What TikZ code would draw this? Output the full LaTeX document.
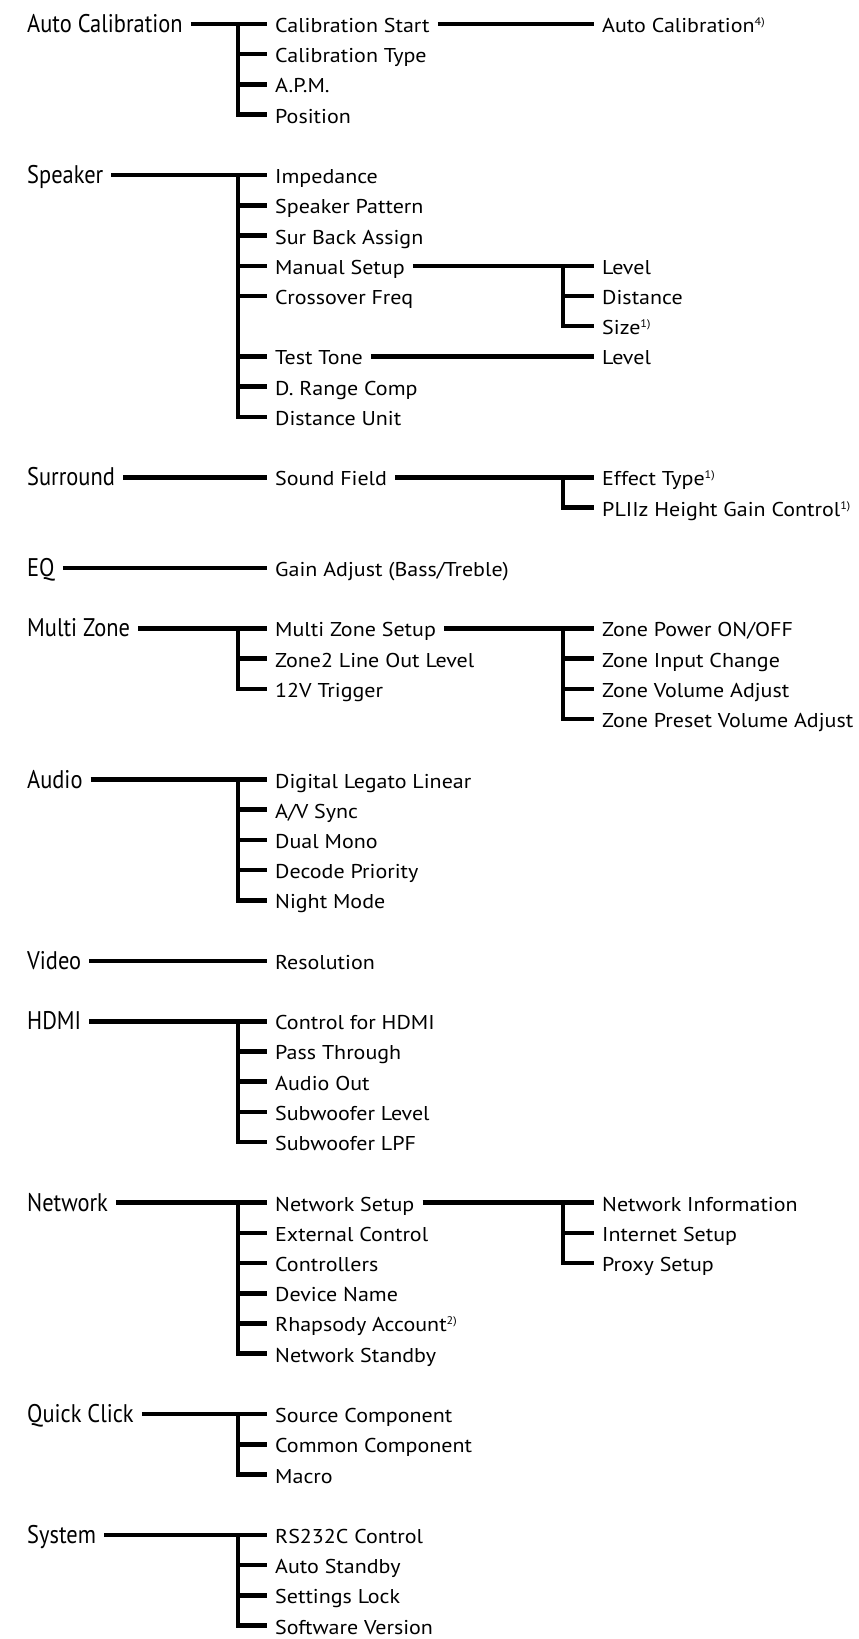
\documentclass[tikz,border=0pt]{standalone}
\usepackage{fontspec}
\setmainfont[FakeStretch=1.1]{PT Sans}
\newfontfamily\condfont[FakeStretch=0.88]{PT Sans}
\usetikzlibrary{calc}
\newcommand\fnote[1]{\raisebox{7pt}{\fontsize{11}{11}\selectfont #1}}
\newcommand\lnk[3]{\draw[wire] ($(#1.east |- #3)+(8,0)$) -- ($(#2.west |- #3)+(-8,0)$);}
\newcommand\brn[3]{\draw[wire] (#1 |- #3) -- ($(#2.west |- #3)+(-8,0)$);}
\newcommand\brl[4]{\draw[wire] (#1 |- #2) -- (#1 |- #4) -- ($(#3.west |- #4)+(-8,0)$);}
\tikzset{
  lvlone/.style={anchor=base west, inner sep=0pt, font=\condfont\fontsize{25.5}{25.5}\selectfont, yshift=-8.5pt},
  lvltwo/.style={anchor=base west, inner sep=0pt, font=\fontsize{20}{20}\selectfont, yshift=-8.5pt},
  wire/.style={line width=4.5pt, line join=miter},
}
\begin{document}
\begin{tikzpicture}[x=1pt,y=-1pt]
\useasboundingbox (0,0) rectangle (859,1639);
\foreach \k in {0,...,53} { \coordinate (r\k) at (0,{24+30.22*\k}); }
\coordinate (xa) at (27,0);
\coordinate (xb) at (275,0);
\coordinate (xc) at (602,0);
\coordinate (b2) at (238,0);
\coordinate (b3) at (563,0);

% Auto Calibration
\node[lvlone] (ac) at (xa |- r0) {Auto Calibration};
\node[lvltwo] (acs) at (xb |- r0) {Calibration Start};
\node[lvltwo] (act) at (xb |- r1) {Calibration Type};
\node[lvltwo] (apm) at (xb |- r2) {A.P.M.};
\node[lvltwo] (pos) at (xb |- r3) {Position};
\node[lvltwo] (aca) at (xc |- r0) {Auto Calibration\fnote{4)}};
\lnk{ac}{acs}{r0}
\brn{b2}{act}{r1}
\brn{b2}{apm}{r2}
\brl{b2}{r0}{pos}{r3}
\lnk{acs}{aca}{r0}

% Speaker
\node[lvlone] (spk) at (xa |- r5) {Speaker};
\node[lvltwo] (imp) at (xb |- r5) {Impedance};
\node[lvltwo] (spp) at (xb |- r6) {Speaker Pattern};
\node[lvltwo] (sba) at (xb |- r7) {Sur Back Assign};
\node[lvltwo] (mns) at (xb |- r8) {Manual Setup};
\node[lvltwo] (crf) at (xb |- r9) {Crossover Freq};
\node[lvltwo] (tst) at (xb |- r11) {Test Tone};
\node[lvltwo] (drc) at (xb |- r12) {D. Range Comp};
\node[lvltwo] (dsu) at (xb |- r13) {Distance Unit};
\node[lvltwo] (mlv) at (xc |- r8) {Level};
\node[lvltwo] (mds) at (xc |- r9) {Distance};
\node[lvltwo] (msz) at (xc |- r10) {Size\fnote{1)}};
\node[lvltwo] (tlv) at (xc |- r11) {Level};
\lnk{spk}{imp}{r5}
\brn{b2}{spp}{r6}
\brn{b2}{sba}{r7}
\brn{b2}{mns}{r8}
\brn{b2}{crf}{r9}
\brn{b2}{tst}{r11}
\brn{b2}{drc}{r12}
\brl{b2}{r5}{dsu}{r13}
\lnk{mns}{mlv}{r8}
\brn{b3}{mds}{r9}
\brl{b3}{r8}{msz}{r10}
\lnk{tst}{tlv}{r11}

% Surround
\node[lvlone] (sur) at (xa |- r15) {Surround};
\node[lvltwo] (snf) at (xb |- r15) {Sound Field};
\node[lvltwo] (eft) at (xc |- r15) {Effect Type\fnote{1)}};
\node[lvltwo] (plz) at (xc |- r16) {PLIIz Height Gain Control\fnote{1)}};
\lnk{sur}{snf}{r15}
\lnk{snf}{eft}{r15}
\brl{b3}{r15}{plz}{r16}

% EQ
\node[lvlone] (eq) at (xa |- r18) {EQ};
\node[lvltwo] (gad) at (xb |- r18) {Gain Adjust (Bass/Treble)};
\lnk{eq}{gad}{r18}

% Multi Zone
\node[lvlone] (mz) at (xa |- r20) {Multi Zone};
\node[lvltwo] (mzs) at (xb |- r20) {Multi Zone Setup};
\node[lvltwo] (z2l) at (xb |- r21) {Zone2 Line Out Level};
\node[lvltwo] (tvt) at (xb |- r22) {12V Trigger};
\node[lvltwo] (zpw) at (xc |- r20) {Zone Power ON/OFF};
\node[lvltwo] (zic) at (xc |- r21) {Zone Input Change};
\node[lvltwo] (zva) at (xc |- r22) {Zone Volume Adjust};
\node[lvltwo] (zpv) at (xc |- r23) {Zone Preset Volume Adjust};
\lnk{mz}{mzs}{r20}
\brn{b2}{z2l}{r21}
\brl{b2}{r20}{tvt}{r22}
\lnk{mzs}{zpw}{r20}
\brn{b3}{zic}{r21}
\brn{b3}{zva}{r22}
\brl{b3}{r20}{zpv}{r23}

% Audio
\node[lvlone] (aud) at (xa |- r25) {Audio};
\node[lvltwo] (dll) at (xb |- r25) {Digital Legato Linear};
\node[lvltwo] (avs) at (xb |- r26) {A/V Sync};
\node[lvltwo] (dmo) at (xb |- r27) {Dual Mono};
\node[lvltwo] (dcp) at (xb |- r28) {Decode Priority};
\node[lvltwo] (ngm) at (xb |- r29) {Night Mode};
\lnk{aud}{dll}{r25}
\brn{b2}{avs}{r26}
\brn{b2}{dmo}{r27}
\brn{b2}{dcp}{r28}
\brl{b2}{r25}{ngm}{r29}

% Video
\node[lvlone] (vid) at (xa |- r31) {Video};
\node[lvltwo] (res) at (xb |- r31) {Resolution};
\lnk{vid}{res}{r31}

% HDMI
\node[lvlone] (hdmi) at (xa |- r33) {HDMI};
\node[lvltwo] (cfh) at (xb |- r33) {Control for HDMI};
\node[lvltwo] (pst) at (xb |- r34) {Pass Through};
\node[lvltwo] (aao) at (xb |- r35) {Audio Out};
\node[lvltwo] (swl) at (xb |- r36) {Subwoofer Level};
\node[lvltwo] (swf) at (xb |- r37) {Subwoofer LPF};
\lnk{hdmi}{cfh}{r33}
\brn{b2}{pst}{r34}
\brn{b2}{aao}{r35}
\brn{b2}{swl}{r36}
\brl{b2}{r33}{swf}{r37}

% Network
\node[lvlone] (net) at (xa |- r39) {Network};
\node[lvltwo] (nst) at (xb |- r39) {Network Setup};
\node[lvltwo] (exc) at (xb |- r40) {External Control};
\node[lvltwo] (ctl) at (xb |- r41) {Controllers};
\node[lvltwo] (dvn) at (xb |- r42) {Device Name};
\node[lvltwo] (rha) at (xb |- r43) {Rhapsody Account\fnote{2)}};
\node[lvltwo] (nsb) at (xb |- r44) {Network Standby};
\node[lvltwo] (nin) at (xc |- r39) {Network Information};
\node[lvltwo] (ins) at (xc |- r40) {Internet Setup};
\node[lvltwo] (prx) at (xc |- r41) {Proxy Setup};
\lnk{net}{nst}{r39}
\brn{b2}{exc}{r40}
\brn{b2}{ctl}{r41}
\brn{b2}{dvn}{r42}
\brn{b2}{rha}{r43}
\brl{b2}{r39}{nsb}{r44}
\lnk{nst}{nin}{r39}
\brn{b3}{ins}{r40}
\brl{b3}{r39}{prx}{r41}

% Quick Click
\node[lvlone] (qc) at (xa |- r46) {Quick Click};
\node[lvltwo] (scp) at (xb |- r46) {Source Component};
\node[lvltwo] (ccp) at (xb |- r47) {Common Component};
\node[lvltwo] (mac) at (xb |- r48) {Macro};
\lnk{qc}{scp}{r46}
\brn{b2}{ccp}{r47}
\brl{b2}{r46}{mac}{r48}

% System
\node[lvlone] (sys) at (xa |- r50) {System};
\node[lvltwo] (rsc) at (xb |- r50) {RS232C Control};
\node[lvltwo] (ast) at (xb |- r51) {Auto Standby};
\node[lvltwo] (stl) at (xb |- r52) {Settings Lock};
\node[lvltwo] (swv) at (xb |- r53) {Software Version};
\lnk{sys}{rsc}{r50}
\brn{b2}{ast}{r51}
\brn{b2}{stl}{r52}
\brl{b2}{r50}{swv}{r53}
\end{tikzpicture}
\end{document}
